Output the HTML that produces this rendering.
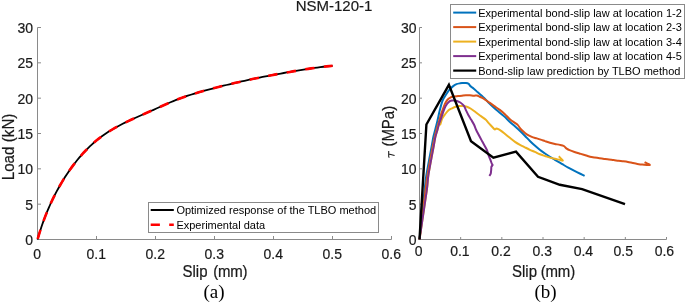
<!DOCTYPE html>
<html><head><meta charset="utf-8"><style>
html,body{margin:0;padding:0;background:#fff;}
body{width:685px;height:303px;overflow:hidden;}
svg{display:block;will-change:transform;}
text{font-family:"Liberation Sans",sans-serif;fill:#000;}
.tk{font-size:14px;fill:#1a1a1a;stroke:#1a1a1a;stroke-width:0.2px;}
.ax{font-size:15px;fill:#1a1a1a;stroke:#1a1a1a;stroke-width:0.2px;}
.lg{font-size:11px;fill:#000;}
.cap{font-family:"Liberation Serif",serif;font-size:19px;}
</style></head><body>
<svg width="685" height="303" viewBox="0 0 685 303">
<path d="M37.5 27.5 V239.5 H391.5" fill="none" stroke="#8a8a8a" stroke-width="1"/>
<path d="M37.5 239.5 h3.5 M37.5 204.17 h3.5 M37.5 168.83 h3.5 M37.5 133.5 h3.5 M37.5 98.17 h3.5 M37.5 62.83 h3.5 M37.5 27.5 h3.5 M37.5 239.5 v-3.5 M96.5 239.5 v-3.5 M155.5 239.5 v-3.5 M214.5 239.5 v-3.5 M273.5 239.5 v-3.5 M332.5 239.5 v-3.5 M391.5 239.5 v-3.5 " fill="none" stroke="#8a8a8a" stroke-width="1"/>
<text transform="translate(33 245) scale(1 1.05)" text-anchor="end" class="tk">0</text>
<text transform="translate(33 209.67) scale(1 1.05)" text-anchor="end" class="tk">5</text>
<text transform="translate(33 174.33) scale(1 1.05)" text-anchor="end" class="tk">10</text>
<text transform="translate(33 139) scale(1 1.05)" text-anchor="end" class="tk">15</text>
<text transform="translate(33 103.67) scale(1 1.05)" text-anchor="end" class="tk">20</text>
<text transform="translate(33 68.33) scale(1 1.05)" text-anchor="end" class="tk">25</text>
<text transform="translate(33 33) scale(1 1.05)" text-anchor="end" class="tk">30</text>
<text transform="translate(37.2 259) scale(1 1.05)" text-anchor="middle" class="tk">0</text>
<text transform="translate(96.2 259) scale(1 1.05)" text-anchor="middle" class="tk">0.1</text>
<text transform="translate(155.2 259) scale(1 1.05)" text-anchor="middle" class="tk">0.2</text>
<text transform="translate(214.2 259) scale(1 1.05)" text-anchor="middle" class="tk">0.3</text>
<text transform="translate(273.2 259) scale(1 1.05)" text-anchor="middle" class="tk">0.4</text>
<text transform="translate(332.2 259) scale(1 1.05)" text-anchor="middle" class="tk">0.5</text>
<text transform="translate(391.2 259) scale(1 1.05)" text-anchor="middle" class="tk">0.6</text>
<path d="M419.5 27.5 V239.5 H666.5" fill="none" stroke="#8a8a8a" stroke-width="1"/>
<path d="M419.5 239.5 h2.5 M419.5 204.17 h2.5 M419.5 168.83 h2.5 M419.5 133.5 h2.5 M419.5 98.17 h2.5 M419.5 62.83 h2.5 M419.5 27.5 h2.5 M419.5 239.5 v-2.5 M460.67 239.5 v-2.5 M501.83 239.5 v-2.5 M543 239.5 v-2.5 M584.17 239.5 v-2.5 M625.33 239.5 v-2.5 M666.5 239.5 v-2.5 " fill="none" stroke="#8a8a8a" stroke-width="1"/>
<text transform="translate(416.6 245) scale(1 1.05)" text-anchor="end" class="tk">0</text>
<text transform="translate(416.6 209.67) scale(1 1.05)" text-anchor="end" class="tk">5</text>
<text transform="translate(416.6 174.33) scale(1 1.05)" text-anchor="end" class="tk">10</text>
<text transform="translate(416.6 139) scale(1 1.05)" text-anchor="end" class="tk">15</text>
<text transform="translate(416.6 103.67) scale(1 1.05)" text-anchor="end" class="tk">20</text>
<text transform="translate(416.6 68.33) scale(1 1.05)" text-anchor="end" class="tk">25</text>
<text transform="translate(416.6 33) scale(1 1.05)" text-anchor="end" class="tk">30</text>
<text transform="translate(418.7 255.5) scale(1 1.05)" text-anchor="middle" class="tk">0</text>
<text transform="translate(459.87 255.5) scale(1 1.05)" text-anchor="middle" class="tk">0.1</text>
<text transform="translate(501.03 255.5) scale(1 1.05)" text-anchor="middle" class="tk">0.2</text>
<text transform="translate(542.2 255.5) scale(1 1.05)" text-anchor="middle" class="tk">0.3</text>
<text transform="translate(583.37 255.5) scale(1 1.05)" text-anchor="middle" class="tk">0.4</text>
<text transform="translate(623.23 255.5) scale(1 1.05)" text-anchor="middle" class="tk">0.5</text>
<text transform="translate(664.4 255.5) scale(1 1.05)" text-anchor="middle" class="tk">0.6</text>
<path d="M37.5 239.5 L38.4 236.54 L39.29 233.59 L40.21 230.66 L41.16 227.73 L42.16 224.81 L43.19 221.91 L44.25 219.01 L45.35 216.13 L46.49 213.26 L47.66 210.41 L48.87 207.57 L50.12 204.75 L51.41 201.94 L52.73 199.15 L54.09 196.39 L55.49 193.63 L56.93 190.9 L58.41 188.2 L59.93 185.51 L61.48 182.84 L63.08 180.2 L64.71 177.58 L66.39 174.99 L68.11 172.42 L69.86 169.88 L71.66 167.37 L73.5 164.88 L75.38 162.43 L77.3 160.02 L79.27 157.64 L81.28 155.3 L83.34 153 L85.45 150.76 L87.6 148.56 L89.8 146.41 L92.05 144.31 L94.34 142.27 L96.69 140.29 L99.09 138.38 L101.54 136.52 L104.05 134.74 L106.6 133.01 L109.2 131.35 L111.84 129.74 L114.51 128.19 L117.22 126.68 L119.95 125.22 L122.71 123.8 L125.48 122.42 L128.27 121.08 L131.08 119.76 L133.89 118.47 L136.7 117.21 L139.51 115.96 L142.33 114.73 L145.14 113.5 L147.95 112.28 L150.77 111.05 L153.58 109.81 L156.39 108.55 L159.21 107.29 L162.02 106.01 L164.84 104.75 L167.67 103.5 L170.51 102.27 L173.36 101.07 L176.22 99.92 L179.1 98.81 L181.99 97.74 L184.89 96.71 L187.81 95.71 L190.74 94.76 L193.68 93.83 L196.63 92.93 L199.58 92.06 L202.55 91.22 L205.52 90.39 L208.5 89.58 L211.48 88.79 L214.46 88.01 L217.45 87.25 L220.44 86.49 L223.44 85.74 L226.43 85 L229.43 84.27 L232.43 83.55 L235.43 82.84 L238.44 82.15 L241.44 81.46 L244.45 80.78 L247.47 80.12 L250.48 79.46 L253.5 78.82 L256.52 78.19 L259.54 77.57 L262.57 76.97 L265.6 76.37 L268.63 75.79 L271.66 75.21 L274.69 74.64 L277.73 74.08 L280.76 73.53 L283.8 72.99 L286.84 72.45 L289.87 71.92 L292.91 71.39 L295.95 70.87 L298.99 70.35 L302.03 69.85 L305.07 69.35 L308.12 68.87 L311.17 68.41 L314.22 67.96 L317.27 67.53 L320.33 67.13 L323.39 66.76 L326.46 66.41 L329.54 66.09 L332.62 65.8" fill="none" stroke="#000" stroke-width="1.8"/>
<path d="M37.5 239.5 L38.4 236.54 L39.29 233.59 L40.21 230.66 L41.16 227.73 L42.16 224.81 L43.19 221.91 L44.25 219.01 L45.35 216.13 L46.49 213.26 L47.66 210.41 L48.87 207.57 L50.12 204.75 L51.41 201.94 L52.73 199.15 L54.09 196.39 L55.49 193.63 L56.93 190.9 L58.41 188.2 L59.93 185.51 L61.48 182.84 L63.08 180.2 L64.71 177.58 L66.39 174.99 L68.11 172.42 L69.86 169.88 L71.66 167.37 L73.5 164.88 L75.38 162.43 L77.3 160.02 L79.27 157.64 L81.28 155.3 L83.34 153 L85.45 150.76 L87.6 148.56 L89.8 146.41 L92.05 144.31 L94.34 142.27 L96.69 140.29 L99.09 138.38 L101.54 136.52 L104.05 134.74 L106.6 133.01 L109.2 131.35 L111.84 129.74 L114.51 128.19 L117.22 126.68 L119.95 125.22 L122.71 123.8 L125.48 122.42 L128.27 121.08 L131.08 119.76 L133.89 118.47 L136.7 117.21 L139.51 115.96 L142.33 114.73 L145.14 113.5 L147.95 112.28 L150.77 111.05 L153.58 109.81 L156.39 108.55 L159.21 107.29 L162.02 106.01 L164.84 104.75 L167.67 103.5 L170.51 102.27 L173.36 101.07 L176.22 99.92 L179.1 98.81 L181.99 97.74 L184.89 96.71 L187.81 95.71 L190.74 94.76 L193.68 93.83 L196.63 92.93 L199.58 92.06 L202.55 91.22 L205.52 90.39 L208.5 89.58 L211.48 88.79 L214.46 88.01 L217.45 87.25 L220.44 86.49 L223.44 85.74 L226.43 85 L229.43 84.27 L232.43 83.55 L235.43 82.84 L238.44 82.15 L241.44 81.46 L244.45 80.78 L247.47 80.12 L250.48 79.46 L253.5 78.82 L256.52 78.19 L259.54 77.57 L262.57 76.97 L265.6 76.37 L268.63 75.79 L271.66 75.21 L274.69 74.64 L277.73 74.08 L280.76 73.53 L283.8 72.99 L286.84 72.45 L289.87 71.92 L292.91 71.39 L295.95 70.87 L298.99 70.35 L302.03 69.85 L305.07 69.35 L308.12 68.87 L311.17 68.41 L314.22 67.96 L317.27 67.53 L320.33 67.13 L323.39 66.76 L326.46 66.41 L329.54 66.09 L332.62 65.8" fill="none" stroke="#ff0000" stroke-width="2.6" stroke-dasharray="9.41 9.41" stroke-dashoffset="-0.7"/>
<path d="M419.5 239.5 C420.18 232.9 423.68 198.6 424.6 190 C425.52 181.4 425.43 181 426.4 175 C427.37 169 430.97 150.09 431.9 145 C432.83 139.91 432.93 138.95 433.4 136.8 C433.87 134.65 434.87 131.02 435.4 128.9 C435.93 126.78 436.8 123.45 437.4 120.9 C438 118.35 439.21 112.52 439.9 109.8 C440.59 107.08 441.71 102.65 442.6 100.5 C443.49 98.35 445.63 95.21 446.6 93.7 C447.57 92.19 449.02 90.21 449.9 89.2 C450.78 88.19 452.32 86.78 453.2 86.1 C454.08 85.42 455.57 84.47 456.5 84.1 C457.43 83.73 459.47 83.43 460.2 83.3 C460.93 83.17 461.24 83.13 462 83.1 C462.76 83.07 465.01 82.99 465.9 83.1 C466.79 83.21 468.17 83.58 468.7 83.9 C469.23 84.22 469.58 85.13 469.9 85.5 C470.22 85.87 470.58 86.27 471.1 86.7 C471.62 87.13 472.91 87.95 473.8 88.7 C474.69 89.45 476.73 91.35 477.8 92.3 C478.87 93.25 480.84 94.91 481.8 95.8 C482.76 96.69 484.15 98.15 485 99 C485.85 99.85 487.15 101.17 488.2 102.2 C489.25 103.23 491.62 105.51 492.9 106.7 C494.18 107.89 496.48 109.95 497.8 111.1 C499.12 112.25 501.84 114.5 502.8 115.3 C503.76 116.1 504.05 116.22 505 117.1 C505.95 117.98 508.58 120.67 509.9 121.9 C511.22 123.13 513.58 125.11 514.9 126.3 C516.22 127.49 518.48 129.55 519.8 130.8 C521.12 132.05 523.45 134.34 524.8 135.7 C526.15 137.06 528.57 139.68 529.9 141 C531.23 142.32 533.48 144.43 534.8 145.6 C536.12 146.77 538.44 148.75 539.8 149.8 C541.16 150.85 543.65 152.57 545 153.5 C546.35 154.43 548.58 155.96 549.9 156.8 C551.22 157.64 553.58 159.01 554.9 159.8 C556.22 160.59 558.8 162.11 559.8 162.7 C560.8 163.29 561.27 163.53 562.4 164.2 C563.53 164.87 566.69 166.81 568.3 167.7 C569.91 168.59 572.83 170.06 574.5 170.9 C576.17 171.74 579.45 173.33 580.8 174 C582.15 174.67 584.09 175.65 584.6 175.9" fill="none" stroke="#0072BD" stroke-width="2" stroke-linejoin="round"/>
<path d="M419.5 239.5 C420.3 232.9 424.43 198.6 425.5 190 C426.57 181.4 426.5 181 427.5 175 C428.5 169 432.04 150.09 433 145 C433.96 139.91 434.17 139.07 434.7 136.8 C435.23 134.53 436.37 130.24 437 128 C437.63 125.76 438.89 121.73 439.4 120 C439.91 118.27 440.47 116.09 440.8 115 C441.13 113.91 441.35 113.28 441.9 111.8 C442.45 110.32 444.18 105.47 444.9 103.9 C445.62 102.33 446.63 100.81 447.3 100 C447.97 99.19 449.11 98.25 449.9 97.8 C450.69 97.35 452.12 96.83 453.2 96.6 C454.28 96.37 456.83 96.22 458 96.1 C459.17 95.98 460.95 95.81 462 95.7 C463.05 95.59 464.85 95.35 465.9 95.3 C466.95 95.25 468.85 95.23 469.9 95.3 C470.95 95.37 472.85 95.79 473.8 95.8 C474.75 95.81 476.25 95.29 477 95.4 C477.75 95.51 478.69 96.27 479.4 96.6 C480.11 96.93 481.45 97.42 482.3 97.9 C483.15 98.38 484.79 99.53 485.8 100.2 C486.81 100.87 488.7 102.07 489.9 102.9 C491.1 103.73 493.48 105.47 494.8 106.4 C496.12 107.33 498.45 108.86 499.8 109.9 C501.15 110.94 503.55 112.96 504.9 114.2 C506.25 115.44 508.57 118.04 509.9 119.2 C511.23 120.36 513.86 122.14 514.9 122.9 C515.94 123.66 517.05 124.25 517.7 124.9 C518.35 125.55 519.12 126.97 519.8 127.8 C520.48 128.63 521.87 130.22 522.8 131.1 C523.73 131.98 525.6 133.63 526.8 134.4 C528 135.17 530.47 136.37 531.8 136.9 C533.13 137.43 535.51 138 536.8 138.4 C538.09 138.8 540.41 139.54 541.5 139.9 C542.59 140.26 543.88 140.73 545 141.1 C546.12 141.47 548.58 142.33 549.9 142.7 C551.22 143.07 553.58 143.61 554.9 143.9 C556.22 144.19 558.64 144.63 559.8 144.9 C560.96 145.17 562.88 145.59 563.6 145.9 C564.32 146.21 564.79 146.84 565.2 147.2 C565.61 147.56 566.13 148.2 566.7 148.6 C567.27 149 568.46 149.75 569.5 150.2 C570.54 150.65 572.99 151.51 574.5 152 C576.01 152.49 579.12 153.39 580.8 153.9 C582.48 154.41 585.87 155.43 587.1 155.8 C588.33 156.17 588.99 156.47 590 156.7 C591.01 156.93 593.43 157.3 594.7 157.5 C595.97 157.7 598.23 158.01 599.5 158.2 C600.77 158.39 602.93 158.71 604.2 158.9 C605.47 159.09 607.73 159.44 609 159.6 C610.27 159.76 612.43 159.94 613.7 160.1 C614.97 160.26 617.23 160.64 618.5 160.8 C619.77 160.96 621.93 161.14 623.2 161.3 C624.47 161.46 626.73 161.77 628 162 C629.27 162.23 631.45 162.75 632.7 163 C633.95 163.25 636.13 163.69 637.4 163.9 C638.67 164.11 640.93 164.47 642.2 164.6 C643.47 164.73 645.89 164.86 646.9 164.9 C647.91 164.94 650.11 165.26 649.8 164.9 C649.49 164.54 645.29 162.56 644.6 162.2" fill="none" stroke="#D95319" stroke-width="2" stroke-linejoin="round"/>
<path d="M419.5 239.5 C420.47 232.9 425.61 198.6 426.8 190 C427.99 181.4 427.45 181 428.4 175 C429.35 169 432.97 150.09 433.9 145 C434.83 139.91 434.93 138.81 435.4 136.8 C435.87 134.79 436.88 131.75 437.4 129.9 C437.92 128.05 438.91 123.62 439.3 122.9 C439.69 122.18 439.91 125.09 440.3 124.5 C440.69 123.91 441.59 119.83 442.2 118.5 C442.81 117.17 444.02 115.63 444.9 114.5 C445.78 113.37 447.85 110.83 448.8 110 C449.75 109.17 451.08 108.74 452 108.3 C452.92 107.86 454.71 107.01 455.7 106.7 C456.69 106.39 458.41 106.09 459.4 106 C460.39 105.91 462.11 105.91 463.1 106 C464.09 106.09 465.81 106.37 466.8 106.7 C467.79 107.03 469.39 107.82 470.5 108.5 C471.61 109.18 473.87 110.89 475.1 111.8 C476.33 112.71 478.78 114.62 479.7 115.3 C480.62 115.98 481.17 116.3 482 116.9 C482.83 117.5 485.1 119.08 485.9 119.8 C486.7 120.52 487.33 121.54 488 122.3 C488.67 123.06 490.11 124.65 490.9 125.5 C491.69 126.35 493.37 128.15 493.9 128.7 C494.43 129.25 494.57 129.64 494.9 129.6 C495.23 129.56 495.87 128.43 496.4 128.4 C496.93 128.37 498.18 129 498.9 129.4 C499.62 129.8 501.01 130.81 501.8 131.4 C502.59 131.99 503.73 132.95 504.8 133.8 C505.87 134.65 508.44 136.73 509.8 137.8 C511.16 138.87 513.64 140.87 515 141.8 C516.36 142.73 518.68 144.07 520 144.8 C521.32 145.53 523.58 146.63 524.9 147.3 C526.22 147.97 528.58 149.19 529.9 149.8 C531.22 150.41 533.45 151.3 534.8 151.9 C536.15 152.5 538.64 153.75 540 154.3 C541.36 154.85 543.68 155.56 545 156 C546.32 156.44 548.58 157.23 549.9 157.6 C551.22 157.97 553.58 158.51 554.9 158.8 C556.22 159.09 558.75 159.57 559.8 159.8 C560.85 160.03 562.93 160.97 562.8 160.5 C562.67 160.03 559.33 156.86 558.8 156.3" fill="none" stroke="#EDB120" stroke-width="2" stroke-linejoin="round"/>
<path d="M419.5 239.5 C420.47 232.9 425.61 198.6 426.8 190 C427.99 181.4 427.45 181 428.4 175 C429.35 169 432.97 150.09 433.9 145 C434.83 139.91 434.93 138.81 435.4 136.8 C435.87 134.79 436.88 131.75 437.4 129.9 C437.92 128.05 438.83 124.35 439.3 122.9 C439.77 121.45 440.42 120.35 440.9 119 C441.38 117.65 442.25 114.56 442.9 112.8 C443.55 111.04 445.01 107.25 445.8 105.8 C446.59 104.35 448 102.59 448.8 101.9 C449.6 101.21 451 100.77 451.8 100.6 C452.6 100.43 454.04 100.52 454.8 100.6 C455.56 100.68 456.77 100.95 457.5 101.2 C458.23 101.45 459.62 102.07 460.3 102.5 C460.98 102.93 462.04 103.84 462.6 104.4 C463.16 104.96 464.01 105.83 464.5 106.7 C464.99 107.57 465.75 109.73 466.3 110.9 C466.85 112.07 467.92 114.27 468.6 115.5 C469.28 116.73 470.65 118.83 471.4 120.1 C472.15 121.37 473.56 123.68 474.2 125 C474.84 126.32 475.16 127.87 476.2 130 C477.24 132.13 480.57 138.33 482 141 C483.43 143.67 486.05 148.13 486.9 150 C487.75 151.87 487.93 153.68 488.4 155 C488.87 156.32 489.93 158.71 490.4 159.9 C490.87 161.09 491.61 163.22 491.9 163.9 C492.19 164.58 492.67 164.61 492.6 165 C492.53 165.39 491.59 166.16 491.4 166.8 C491.21 167.44 491.29 168.87 491.2 169.8 C491.11 170.73 490.95 172.99 490.7 173.8 C490.45 174.61 489.49 175.62 489.3 175.9" fill="none" stroke="#7E2F8E" stroke-width="2" stroke-linejoin="round"/>
<path d="M419.5 239.5 L426.4 124.5 L448.9 84.8 L471 141.3 L493.4 157.6 L516 151.6 L538 176.8 L559.8 184.8 L582.1 189.1 L625 204.1" fill="none" stroke="#000" stroke-width="2.4" stroke-linejoin="miter"/>
<rect x="148.5" y="202.5" width="230" height="30" fill="#fff" stroke="#8a8a8a" stroke-width="1"/>
<path d="M150.7 210 H173.8" stroke="#000" stroke-width="2"/>
<path d="M150.7 224.7 H159.9 M169.2 224.7 H173.8" stroke="#ff0000" stroke-width="2.6"/>
<text x="176.4" y="214.3" class="lg">Optimized response of the TLBO method</text>
<text x="176.4" y="229" class="lg">Experimental data</text>
<rect x="450.5" y="4.5" width="234" height="74" fill="#fff" stroke="#8a8a8a" stroke-width="1"/>
<path d="M453.2 12.6 H476.2" stroke="#0072BD" stroke-width="2"/>
<text x="478.2" y="16.6" class="lg">Experimental bond-slip law at location 1-2</text>
<path d="M453.2 27.1 H476.2" stroke="#D95319" stroke-width="2"/>
<text x="478.2" y="31.1" class="lg">Experimental bond-slip law at location 2-3</text>
<path d="M453.2 41.6 H476.2" stroke="#EDB120" stroke-width="2"/>
<text x="478.2" y="45.6" class="lg">Experimental bond-slip law at location 3-4</text>
<path d="M453.2 56.1 H476.2" stroke="#7E2F8E" stroke-width="2"/>
<text x="478.2" y="60.1" class="lg">Experimental bond-slip law at location 4-5</text>
<path d="M453.2 70.6 H476.2" stroke="#000" stroke-width="2.2"/>
<text x="478.2" y="74.6" class="lg">Bond-slip law prediction by TLBO method</text>
<text transform="translate(334 11.2)" text-anchor="middle" class="ax">NSM-120-1</text>
<text transform="translate(182.5 276.7) scale(1 1.06)" class="ax">Slip</text>
<text transform="translate(213.2 276.7) scale(1 1.06)" class="ax" letter-spacing="-0.25">(mm)</text>
<text transform="translate(512 276.7) scale(1 1.06)" class="ax">Slip</text>
<text transform="translate(540.8 276.7) scale(1 1.06)" class="ax" letter-spacing="-0.2">(mm)</text>
<text x="214" y="298.2" text-anchor="middle" class="cap">(a)</text>
<text x="545.6" y="298.2" text-anchor="middle" class="cap">(b)</text>
<text transform="translate(13.8 146.95) rotate(-90) scale(1.015 1.05)" text-anchor="middle" class="ax">Load (kN)</text>
<text transform="translate(394 146.6) rotate(-90) scale(1 1.05)" class="ax">(MPa)</text>
<path d="M389.4 157.6 Q388.7 157.4 388.7 156.6 L388.7 150.9 M388.8 154.1 L394.6 155.4" fill="none" stroke="#1a1a1a" stroke-width="1.05"/>
</svg>
</body></html>
